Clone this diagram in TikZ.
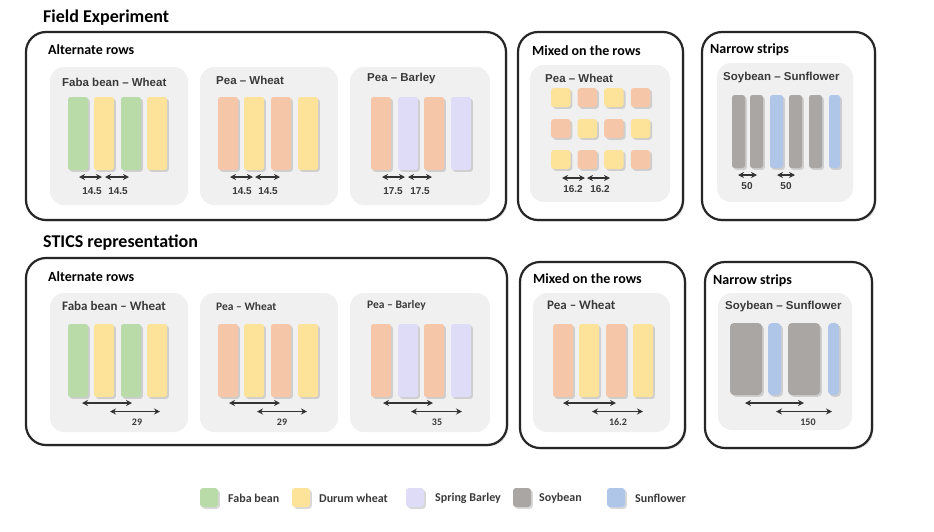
\documentclass[tikz,border=0pt]{standalone}
\usepackage{fontspec}
\setmainfont{Carlito}
\newfontfamily\arialfont{Liberation Sans}
\usetikzlibrary{shadows,arrows.meta}

\definecolor{faba}{HTML}{B8DBA8}
\definecolor{durum}{HTML}{FDE29A}
\definecolor{pea}{HTML}{F6C6A8}
\definecolor{barley}{HTML}{DFDCF7}
\definecolor{soy}{HTML}{AAA6A4}
\definecolor{sunfl}{HTML}{AFC6E8}
\definecolor{panelgray}{HTML}{F0F0F0}
\definecolor{ink}{HTML}{3A3A3A}

\tikzset{
  frame/.style={draw=black!85,line width=2.2pt,rounded corners=20pt,fill=white,
    drop shadow={shadow xshift=1.5pt,shadow yshift=-1.5pt,opacity=.25}},
  panel/.style={fill=panelgray,rounded corners=14pt},
  crop/.style={rounded corners=2.5pt,drop shadow={shadow xshift=1.8pt,shadow yshift=-1.8pt,opacity=.3}},
  dim/.style={{Stealth[length=6pt,width=6pt]}-{Stealth[length=6pt,width=6pt]},line width=1.6pt,draw=black!80},
  title/.style={anchor=west,inner sep=0pt,font=\bfseries\fontsize{18}{20}\selectfont},
  boxlab/.style={anchor=west,inner sep=0pt,font=\bfseries\fontsize{14}{16}\selectfont},
  pairlab/.style={anchor=west,inner sep=0pt,text=ink,font=\arialfont\bfseries\fontsize{11.5}{13}\selectfont},
  pairlabc/.style={anchor=west,inner sep=0pt,text=ink,font=\bfseries\fontsize{#1}{15}\selectfont},
  num/.style={inner sep=0pt,text=ink,font=\arialfont\bfseries\fontsize{10}{11}\selectfont},
  numc/.style={inner sep=0pt,text=ink,font=\bfseries\fontsize{10}{11}\selectfont},
  legtext/.style={anchor=west,inner sep=0pt,text=ink,font=\bfseries\fontsize{12}{14}\selectfont},
}

\begin{document}
\begin{tikzpicture}[x=1pt,y=-1pt]
\useasboundingbox[fill=white] (0,0) rectangle (934,531);

% ---- Field experiment
\node[title] (t1) at (43,18) {Field Experiment};
\draw[frame] (26,32) rectangle (506,220);
\draw[frame] (518,32) rectangle (683,220);
\draw[frame] (702,32) rectangle (875,220);
\node[boxlab] (alt1) at (48,50) {Alternate rows};
\node[boxlab] (mix1) at (532,51) {Mixed on the rows};
\node[boxlab] (nar1) at (710,50) {Narrow strips};

\foreach \a/\b in {50/188,200/338,350/490}
  \fill[panel] (\a,67) rectangle (\b,205);
\fill[panel] (530,65) rectangle (670,202);
\fill[panel] (717,63) rectangle (853,202);

\node[pairlab] (fw1) at (62,82) {Faba bean – Wheat};
\node[pairlab] (pw1) at (216,80) {Pea – Wheat};
\node[pairlab] (pb1) at (367,79) {Pea – Barley};
\node[pairlab] (mw1) at (545,78) {Pea – Wheat};
\node[pairlab] (ss1) at (723,78) {Soybean – Sunflower};

\foreach \x/\c in {68/faba,94/durum,121/faba,147/durum,218/pea,244/durum,271/pea,298/durum,371/pea,398/barley,424/pea,451/barley}
  \fill[crop,\c] (\x,97) rectangle ++(20,73);

\foreach \i in {0,...,3}
  \foreach \j in {0,1,2}{
    \pgfmathtruncatemacro\k{\i+\j}
    \ifodd\k \def\c{pea}\else\def\c{durum}\fi
    \fill[crop,\c,rounded corners=3pt] (551+26.6*\i,88+31*\j) rectangle ++(19.5,19);
  }

\foreach \x/\w/\c in {732/13/soy,750/13/soy,770/13/sunfl,789/13/soy,809/13/soy,829/11/sunfl}
  \fill[crop,\c] (\x,95) rectangle ++(\w,73);

\foreach \a/\b/\m in {79/102/92,105/129/118,230/253/242,255/280/268}{
  \draw[dim] (\a,177) -- (\b,177);
  \node[num] at (\m,191) {14.5};
}
\foreach \a/\b/\m in {382/405/393,408/432/420}{
  \draw[dim] (\a,177) -- (\b,177);
  \node[num] at (\m,191) {17.5};
}
\foreach \a/\b/\m in {562/585/573,587/610/600}{
  \draw[dim] (\a,178) -- (\b,178);
  \node[num] at (\m,189) {16.2};
}
\foreach \a/\b/\m in {738/757/747,777/795/786}{
  \draw[dim] (\a,175) -- (\b,175);
  \node[num] at (\m,186) {50};
}

% ---- STICS
\node[title] (t2) at (43,243) {STICS representation};
\draw[frame] (26,258) rectangle (507,445);
\draw[frame] (520,262) rectangle (685,448);
\draw[frame] (705,262) rectangle (872,448);
\node[boxlab] (alt2) at (48,277) {Alternate rows};
\node[boxlab] (mix2) at (533,279) {Mixed on the rows};
\node[boxlab] (nar2) at (713,281) {Narrow strips};

\foreach \a/\b in {50/188,200/338,350/490}
  \fill[panel] (\a,293) rectangle (\b,432);
\fill[panel] (533,293) rectangle (670,432);
\fill[panel] (718,293) rectangle (852,430);

\node[pairlabc=13] (fw2) at (62,306) {Faba bean – Wheat};
\node[pairlabc=11.5] (pw2) at (216,306) {Pea – Wheat};
\node[pairlabc=11.5] (pb2) at (367,305) {Pea – Barley};
\node[pairlabc=13] (mw2) at (547,305) {Pea – Wheat};
\node[pairlab] (ss2) at (725,307) {Soybean – Sunflower};

\foreach \x/\c in {68/faba,94/durum,121/faba,147/durum,218/pea,244/durum,271/pea,298/durum,371/pea,398/barley,424/pea,451/barley,553/pea,579/durum,606/pea,633/durum}
  \fill[crop,\c] (\x,324) rectangle ++(20,73);
\foreach \x/\w/\c in {730/32/soy,768/13/sunfl,788/32/soy,828/11/sunfl}
  \fill[crop,\c,rounded corners=4pt] (\x,323) rectangle ++(\w,72);

\foreach \a/\b/\c/\d/\m/\v in {82/132/110/160/137/29,229/280/257/307/282/29,383/433/411/462/437/35,563/616/592/643/618/16.2,745/804/776/832/808/150}{
  \draw[dim] (\a,403) -- (\b,403);
  \draw[dim] (\c,411.5) -- (\d,411.5);
  \node[numc] at (\m,422) {\v};
}

% ---- legende
\foreach \x/\c/\tx/\lab in {200/faba/228/Faba bean,292/durum/319/Durum wheat,406/barley/435/Spring Barley,513/soy/539/Soybean,607/sunfl/635/Sunflower}{
  \fill[crop,\c,rounded corners=3pt] (\x,488) rectangle ++(18,19);
  \node[legtext] at (\tx,498) {\lab};
}
\end{tikzpicture}
\end{document}
